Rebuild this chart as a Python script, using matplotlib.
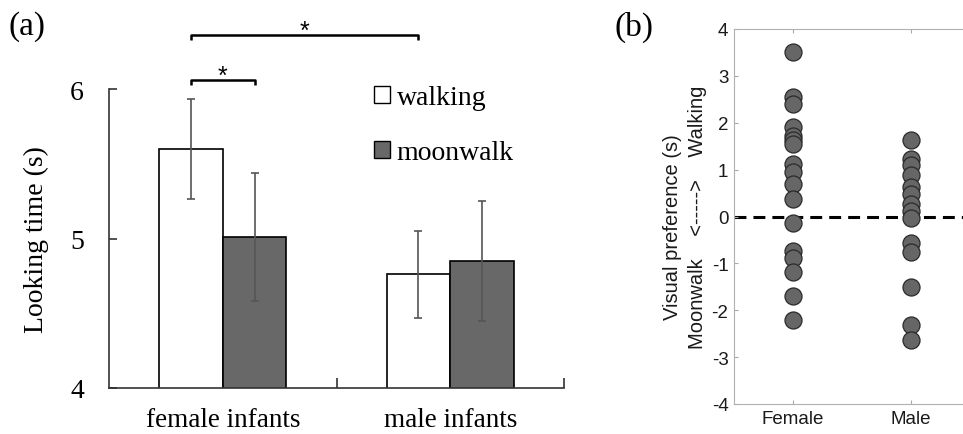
import matplotlib
matplotlib.use("Agg")
import matplotlib.pyplot as plt
from matplotlib.patches import Patch

plt.rcParams["axes.unicode_minus"] = False

# (a) mean looking time +/- SE
groups = ["female infants", "male infants"]
walking = [5.60, 4.76]
walking_err = [0.335, 0.29]
moonwalk = [5.01, 4.85]
moonwalk_err = [0.43, 0.40]

# (b) individual visual preference scores (walking - moonwalk, s)
cats = ["Female", "Male"]
female_pref = [3.52, 2.54, 2.41, 1.92, 1.72, 1.64, 1.55, 1.13, 0.96, 0.69, 0.38,
               -0.13, -0.74, -0.88, -1.18, -1.69, -2.21]
male_pref = [1.64, 1.22, 1.10, 0.89, 0.62, 0.48, 0.26, 0.12, -0.04, -0.57, -0.75,
             -1.50, -2.32, -2.63]

SERIF = ["Liberation Serif", "DejaVu Serif"]
SANS = ["Liberation Sans", "DejaVu Sans"]

fig = plt.figure(figsize=(9.63, 4.35), dpi=100)

# ---------- panel (a) ----------
ax = fig.add_axes([109/963, 46/435, 455/963, 299/435])
x = [0, 1]
w = 0.28
ekw = dict(ecolor="#555555", elinewidth=1.2, capsize=3, capthick=1.2)
ax.bar([i - w/2 for i in x], walking, w, yerr=walking_err, color="white",
       edgecolor="black", linewidth=1.2, error_kw=ekw, zorder=2)
ax.bar([i + w/2 for i in x], moonwalk, w, yerr=moonwalk_err, color="#686868",
       edgecolor="black", linewidth=1.2, error_kw=ekw, zorder=2)
ax.set_xlim(-0.5, 1.5)
ax.set_ylim(4, 6)
ax.set_yticks([4, 5, 6])
ax.set_xticks(x)
ax.set_xticklabels(groups, family=SERIF, fontsize=19.5)
ax.set_xticks([0.5, 1.5], minor=True)
ax.tick_params(axis="x", which="major", length=0, pad=13.5)
ax.tick_params(axis="x", which="minor", direction="in", length=7, width=1.2, color="#333333")
ax.tick_params(axis="y", direction="in", length=6, width=1.2, color="#333333", pad=18, labelsize=20)
for lab in ax.get_yticklabels():
    lab.set_family(SERIF)
for s in ("top", "right"):
    ax.spines[s].set_visible(False)
for s in ("left", "bottom"):
    ax.spines[s].set_linewidth(1.2)
    ax.spines[s].set_color("#333333")
ax.set_ylabel("Looking time (s)", family=SERIF, fontsize=20, labelpad=15)

# significance brackets
def bracket(x0, x1, y, h=0.035):
    ax.plot([x0, x0, x1, x1], [y - h, y, y, y - h], color="black", lw=1.8,
            clip_on=False, solid_capstyle="butt")
    ax.text((x0 + x1) / 2, y - 0.05, "*", ha="center", va="bottom", fontsize=18,
            family=SANS, clip_on=False)

bracket(x[0] - w/2, x[0] + w/2, 6.06)
bracket(x[0] - w/2, x[1] - w/2, 6.36)

leg_handles = [Patch(facecolor="white", edgecolor="black", linewidth=1.0),
               Patch(facecolor="#686868", edgecolor="black", linewidth=1.0)]
ax.legend(leg_handles, ["walking", "moonwalk"], loc="upper left",
          bbox_to_anchor=(0.583, 1.012), frameon=False,
          prop={"family": SERIF, "size": 20}, handlelength=0.55, handleheight=0.55,
          handletextpad=0.25, labelspacing=1.07, borderpad=0, borderaxespad=0)

fig.text(8/963, 1 - 27/435, "(a)", family=SERIF, fontsize=24, ha="left", va="center")

# ---------- panel (b) ----------
bx = fig.add_axes([734/963, 30/435, 236/963, 375/435])
bx.axhline(0, color="black", lw=2.2, dashes=(3.9, 2.3), zorder=1)
bx.scatter([1] * len(female_pref), female_pref, s=150, color="#666666",
           edgecolor="#2a2a2a", linewidth=0.9, zorder=3)
bx.scatter([2] * len(male_pref), male_pref, s=150, color="#666666",
           edgecolor="#2a2a2a", linewidth=0.9, zorder=3)
bx.set_xlim(0.5, 2.5)
bx.set_ylim(-4, 4)
bx.set_yticks(range(-4, 5))
bx.set_xticks([1, 2])
bx.set_xticklabels(cats)
bx.tick_params(direction="in", length=3, width=0.8, color="#aaaaaa",
               top=True, right=True, labelsize=13.5, labelcolor="#1a1a1a", pad=4)
for lab in bx.get_xticklabels() + bx.get_yticklabels():
    lab.set_family(SANS)
for s in bx.spines.values():
    s.set_color("#b0b0b0")
    s.set_linewidth(0.8)
bx.text((672 - 734) / 236, (435 - 227 - 30) / 375, "Visual preference (s)",
        transform=bx.transAxes, rotation=90, ha="center", va="center",
        family=SANS, fontsize=14.5, color="#1a1a1a")
bx.text((697 - 734) / 236, 0.5, "Moonwalk    <----->    Walking",
        transform=bx.transAxes, rotation=90, ha="center", va="center",
        family=SANS, fontsize=14.5, color="#1a1a1a")

fig.text(615/963, 1 - 27/435, "(b)", family=SERIF, fontsize=24, ha="left", va="center")

fig.savefig("out.png", dpi=100)
